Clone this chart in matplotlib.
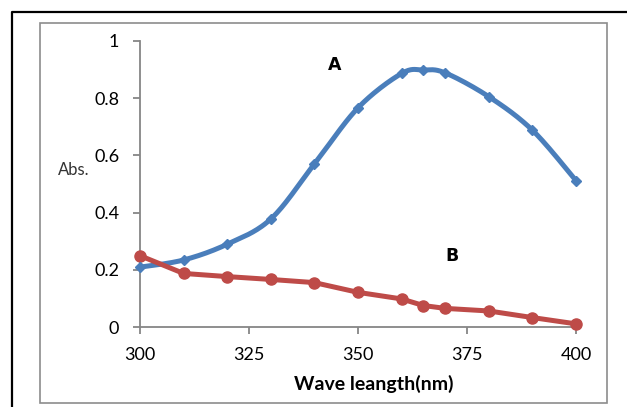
import numpy as np
import matplotlib
matplotlib.use("Agg")
import matplotlib.pyplot as plt
from matplotlib.lines import Line2D
from matplotlib.patches import Rectangle

plt.rcParams['font.family'] = ['Lato', 'DejaVu Sans']

wavelength = [300, 310, 320, 330, 340, 350, 360, 365, 370, 380, 390, 400]
abs_A = [0.21, 0.235, 0.29, 0.378, 0.57, 0.766, 0.886, 0.898, 0.888, 0.805, 0.688, 0.512]
abs_B = [0.25, 0.188, 0.177, 0.167, 0.156, 0.122, 0.099, 0.076, 0.066, 0.057, 0.034, 0.012]
x_ticks = [300, 325, 350, 375, 400]
y_ticks = [0, 0.2, 0.4, 0.6, 0.8, 1]
y_tick_labels = ['0', '0.2', '0.4', '0.6', '0.8', '1']

BLUE = '#4A7EBB'
RED = '#BE4B48'
GRAY = '#868686'

W, H = 627, 407
fig = plt.figure(figsize=(W / 100, H / 100), dpi=100)

def smooth(xs, ys, n=30):
    # Excel-like smoothing: cubic Bezier with Catmull-Rom control points
    P = np.column_stack([xs, ys]).astype(float)
    out = [P[0]]
    for i in range(len(P) - 1):
        p0 = P[i - 1] if i > 0 else P[i]
        p1, p2 = P[i], P[i + 1]
        p3 = P[i + 2] if i + 2 < len(P) else P[i + 1]
        c1 = p1 + (p2 - p0) / 6
        c2 = p2 - (p3 - p1) / 6
        t = np.linspace(0, 1, n)[1:, None]
        seg = (1 - t) ** 3 * p1 + 3 * (1 - t) ** 2 * t * c1 + 3 * (1 - t) * t ** 2 * c2 + t ** 3 * p2
        out.extend(seg)
    out = np.array(out)
    return out[:, 0], out[:, 1]

# axes placement in pixels
x0, x1 = 140, 576
y0, y1 = 327.3, 40.8
ax = fig.add_axes([x0 / W, (H - y0) / H, (x1 - x0) / W, (y0 - y1) / H])

sx, sy = smooth(wavelength, abs_A)
ax.plot(sx, sy, color=BLUE, lw=3.6, solid_capstyle='round', clip_on=False, zorder=3)
ax.plot(wavelength, abs_A, linestyle='none', marker='D', markersize=5.5, color=BLUE, clip_on=False, zorder=4)
ax.plot(wavelength, abs_B, color=RED, lw=3.6, marker='o', markersize=8, solid_joinstyle='round',
        solid_capstyle='round', clip_on=False, zorder=3)

ax.set_xlim(300, 400)
ax.set_ylim(0, 1)
ax.set_xticks(x_ticks)
ax.set_xticklabels([str(v) for v in x_ticks])
ax.set_yticks(y_ticks)
ax.set_yticklabels(y_tick_labels)

for s in ['top', 'right']:
    ax.spines[s].set_visible(False)
for s in ['left', 'bottom']:
    ax.spines[s].set_color(GRAY)
    ax.spines[s].set_linewidth(1.3)
ax.tick_params(axis='both', colors=GRAY, labelcolor='black', length=5, width=1.3, labelsize=13)
ax.tick_params(axis='y', pad=10)
ax.tick_params(axis='x', pad=9)

ax.text(344.7, 0.915, 'A', fontsize=12.5, fontweight='bold', family='DejaVu Sans', ha='center', va='center')
ax.text(371.6, 0.249, 'B', fontsize=12.5, fontweight='bold', family='DejaVu Sans', ha='center', va='center')

fig.text(374 / W, (H - 384) / H, 'Wave leangth(nm)', fontsize=14, fontweight='bold', ha='center', va='center')
fig.text(74 / W, (H - 170) / H, 'Abs.', fontsize=12, color='#333333', ha='center', va='center')

# inner gray chart-area border
fig.add_artist(Rectangle((40 / W, (H - 403) / H), (607 - 40) / W, (403 - 23) / H,
                         transform=fig.transFigure, fill=False, edgecolor='#8c8c8c', lw=1.2))
# outer black border (cropped at right and bottom)
fig.add_artist(Line2D([11.5 / W, 11.5 / W, 1.0], [0, (H - 12) / H, (H - 12) / H],
                      transform=fig.transFigure, color='black', lw=1.6))

fig.savefig('out.png', dpi=100)
